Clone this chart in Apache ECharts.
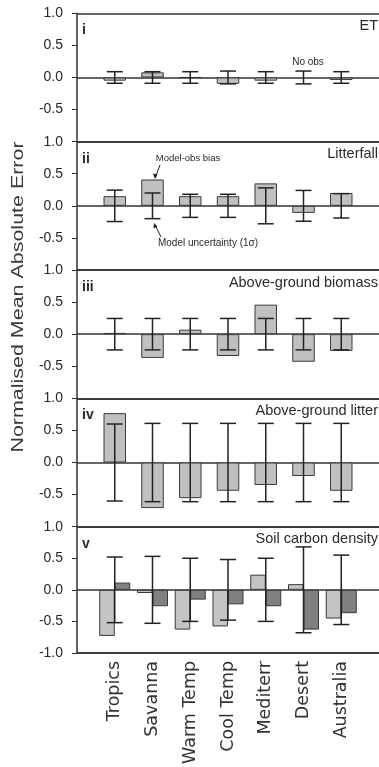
<!DOCTYPE html>
<html>
<head>
<meta charset="utf-8">
<script src="https://cdn.jsdelivr.net/npm/echarts@6/dist/echarts.min.js"></script>
<style>
html,body{margin:0;padding:0;background:#fff;}
#chart{width:379px;height:767px;}
</style>
</head>
<body>
<div id="chart"></div>
<script>
// ---- data ----
const categories = ['Tropics', 'Savanna', 'Warm Temp', 'Cool Temp', 'Mediterr', 'Desert', 'Australia'];
const panelIds = ['i', 'ii', 'iii', 'iv', 'v'];
const panelTitles = ['ET', 'Litterfall', 'Above-ground biomass', 'Above-ground litter', 'Soil carbon density'];

const etBias = [-0.05, 0.08, 0.0, -0.10, -0.05, null, -0.04];
const etErr = [0.09, 0.09, 0.09, 0.10, 0.09, 0.10, 0.09];

const litterfallBias = [0.15, 0.41, 0.15, 0.15, 0.35, -0.11, 0.20];
const litterfallErr = [0.245, 0.20, 0.18, 0.18, 0.28, 0.24, 0.19];

const biomassBias = [0.02, -0.37, 0.07, -0.34, 0.46, -0.43, -0.26];
const biomassErr = [0.245, 0.245, 0.245, 0.245, 0.245, 0.245, 0.245];

const litterBias = [0.77, -0.71, -0.555, -0.44, -0.35, -0.21, -0.44];
const litterErr = [0.60, 0.61, 0.61, 0.61, 0.61, 0.61, 0.61];

const soilBiasA = [-0.73, -0.05, -0.63, -0.58, 0.24, 0.09, -0.455];
const soilBiasB = [0.115, -0.26, -0.155, -0.23, -0.26, -0.63, -0.37];
const soilErr = [0.52, 0.53, 0.50, 0.48, 0.50, 0.68, 0.55];

const yMin = -1, yMax = 1, yStep = 0.5;

// ---- build ----
const chart = echarts.init(document.getElementById('chart'), null, {renderer: 'canvas'});
const padded = [''].concat(categories, ['']);
const pad = arr => [null].concat(arr, [null]);

const panelTop = 13.3, panelH = 128.35, gridLeft = 77, gridW = 308;
const txt = '#2a2a2a', axisCol = '#333';

const grids = [], xAxes = [], yAxes = [], series = [], graphics = [];

const panels = [
  {bars: [etBias], err: etErr},
  {bars: [litterfallBias], err: litterfallErr},
  {bars: [biomassBias], err: biomassErr},
  {bars: [litterBias], err: litterErr},
  {bars: [soilBiasA, soilBiasB], err: soilErr}
];
const barColors1 = ['#c0c0c0'];
const barColors2 = ['#c4c4c4', '#808080'];

panels.forEach((p, k) => {
  const last = k === panels.length - 1;
  grids.push({left: gridLeft, top: panelTop + k * panelH, width: gridW, height: panelH, containLabel: false});
  xAxes.push({
    type: 'category', gridIndex: k, data: padded, boundaryGap: false,
    axisLine: {show: last, onZero: false, lineStyle: {color: axisCol, width: 1.5}},
    axisTick: {show: false},
    splitLine: {show: false},
    axisLabel: {
      show: last, rotate: 90, margin: 8, interval: 0,
      fontFamily: 'DejaVu Sans', fontSize: 17.5, color: '#333'
    }
  });
  yAxes.push({
    type: 'value', gridIndex: k, min: yMin, max: yMax, interval: yStep,
    axisLine: {show: true, lineStyle: {color: axisCol, width: 1.5}},
    axisTick: {show: true, length: 5, lineStyle: {color: axisCol, width: 1}},
    axisLabel: {
      margin: 14, fontFamily: 'Liberation Sans', fontSize: 14, color: txt,
      formatter: v => (!last && v === yMin) ? '' : v.toFixed(1)
    },
    splitLine: {show: true, lineStyle: {color: [axisCol, 'rgba(0,0,0,0)', axisCol, 'rgba(0,0,0,0)', axisCol], width: 1.5}}
  });
  const multi = p.bars.length > 1;
  p.bars.forEach((b, j) => {
    series.push({
      type: 'bar', xAxisIndex: k, yAxisIndex: k,
      data: pad(b),
      barWidth: multi ? 15.5 : 22.5, barGap: '0%',
      itemStyle: {color: multi ? barColors2[j] : barColors1[0], borderColor: '#3a3a3a', borderWidth: 1},
      silent: true, animation: false, z: 2
    });
  });
  series.push({
    type: 'custom', xAxisIndex: k, yAxisIndex: k, z: 5, animation: false, silent: true,
    data: p.err.map((e, i) => [i + 1, e]),
    renderItem: (params, api) => {
      const x = api.value(0), e = api.value(1);
      const t = api.coord([x, e]), b = api.coord([x, -e]);
      const hw = 8;
      const st = {stroke: '#222', lineWidth: 1.5};
      return {type: 'group', children: [
        {type: 'line', shape: {x1: t[0], y1: t[1], x2: b[0], y2: b[1]}, style: st},
        {type: 'line', shape: {x1: t[0] - hw, y1: t[1], x2: t[0] + hw, y2: t[1]}, style: st},
        {type: 'line', shape: {x1: b[0] - hw, y1: b[1], x2: b[0] + hw, y2: b[1]}, style: st}
      ]};
    }
  });
  const top = panelTop + k * panelH;
  graphics.push({
    type: 'text', left: 82, top: top + 10,
    style: {text: panelIds[k], font: 'bold 14px "Liberation Sans"', fill: txt}
  });
  graphics.push({
    type: 'text', right: 1, top: top + 5,
    style: {text: panelTitles[k], font: '14.5px "Liberation Sans"', fill: txt}
  });
});

// y axis title (stretched along its length, as in the reference)
graphics.push({
  type: 'text', x: 18, y: 297, rotation: Math.PI / 2, scaleX: 1.3, scaleY: 1,
  style: {text: 'Normalised Mean Absolute Error', font: '16.5px "Liberation Sans"', fill: '#3a3a3a', align: 'center', verticalAlign: 'middle'}
});
// annotations
graphics.push({type: 'text', x: 308, y: 62, style: {text: 'No obs', font: '10px "Liberation Sans"', fill: txt, align: 'center', verticalAlign: 'middle'}});
graphics.push({type: 'text', x: 188, y: 158, style: {text: 'Model-obs bias', font: '9.5px "Liberation Sans"', fill: txt, align: 'center', verticalAlign: 'middle'}});
graphics.push({type: 'text', x: 208, y: 243, style: {text: 'Model uncertainty (1σ)', font: '10px "Liberation Sans"', fill: txt, align: 'center', verticalAlign: 'middle'}});
graphics.push({type: 'line', shape: {x1: 160, y1: 165, x2: 155.5, y2: 177}, style: {stroke: '#222', lineWidth: 1}});
graphics.push({type: 'polygon', shape: {points: [[155, 179], [153, 173.5], [157.5, 174.5]]}, style: {fill: '#222'}});
graphics.push({type: 'line', shape: {x1: 161, y1: 237, x2: 155, y2: 225}, style: {stroke: '#222', lineWidth: 1}});
graphics.push({type: 'polygon', shape: {points: [[154, 223], [153.5, 228.5], [157.5, 226.5]]}, style: {fill: '#222'}});

chart.setOption({
  animation: false,
  backgroundColor: '#fff',
  grid: grids, xAxis: xAxes, yAxis: yAxes, series: series, graphic: graphics
});
</script>
</body>
</html>
